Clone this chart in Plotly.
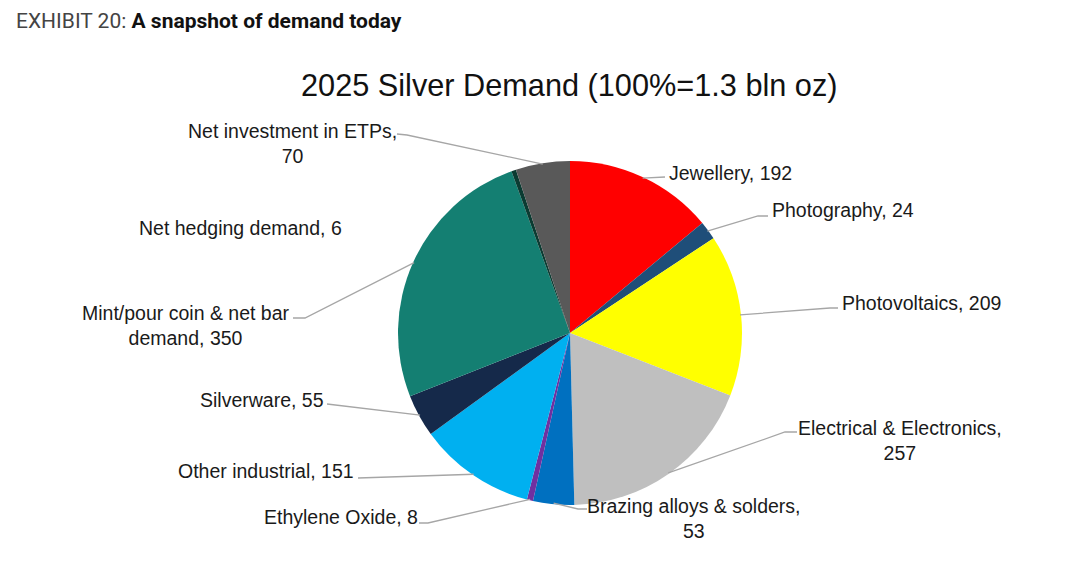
import math
import plotly.graph_objects as go

W, H = 1080, 580

# ---- data ----
names = ["Jewellery", "Photography", "Photovoltaics", "Electrical & Electronics",
         "Brazing alloys & solders", "Ethylene Oxide", "Other industrial",
         "Silverware", "Mint/pour coin & net bar<br>demand", "Net hedging demand",
         "Net investment in ETPs"]
values = [192, 24, 209, 257, 53, 8, 151, 55, 350, 6, 70]
seps = [", ", ", ", ", ", ",<br>", ",<br>", ", ", ", ", ", ", ", ", ", ", ",<br>"]
colors = ["#FF0000", "#1F4E79", "#FFFF00", "#BFBFBF", "#0070C0", "#7030A0",
          "#00B0F0", "#15294A", "#147F72", "#0B3B32", "#595959"]

# ---- layout positions (pixels) ----
pie_left, pie_right, pie_top, pie_bottom = 398, 742, 161, 505
label_pos = [(730, 173), (843, 210), (921, 303), (900, 440), (694, 518),
             (341, 517), (266, 471), (262, 400), (186, 325), (240, 228), (292, 143)]
leader_pts = [
    [(665, 177)],
    [(758, 216), (768, 216)],
    [(830, 308), (838, 308)],
    [(785, 432), (797, 432)],
    [(578, 509), (587, 509)],
    [(428, 523), (419, 523)],
    [(358, 478)],
    [(327, 404)],
    [(305, 318), (293, 318)],
    None,
    [(407, 135), (397, 134)],
]

def px(x):
    return x / W

def py(y):
    return 1 - y / H

fig = go.Figure(go.Pie(
    labels=[n.replace("<br>", " ") for n in names],
    values=values,
    sort=False,
    direction="clockwise",
    rotation=0,
    textinfo="none",
    marker=dict(colors=colors, line=dict(width=0)),
    domain=dict(x=[px(pie_left), px(pie_right)], y=[py(pie_bottom), py(pie_top)]),
    showlegend=False,
))

cx = (pie_left + pie_right) / 2
cy = (pie_top + pie_bottom) / 2
r = (pie_right - pie_left) / 2 - 1
total = sum(values)

shapes = []
annotations = []
cum = 0
for i, v in enumerate(values):
    theta = 2 * math.pi * (cum + v / 2) / total
    cum += v
    ax = cx + r * math.sin(theta)
    ay = cy - r * math.cos(theta)
    pts = leader_pts[i]
    if pts:
        path = f"M {px(ax)},{py(ay)}"
        for (x, y) in pts:
            path += f" L {px(x)},{py(y)}"
        shapes.append(dict(type="path", xref="paper", yref="paper", path=path,
                           line=dict(color="#A6A6A6", width=1.3)))
    lx, ly = label_pos[i]
    annotations.append(dict(
        x=px(lx), y=py(ly), xref="paper", yref="paper",
        text=f"{names[i]}{seps[i]}{values[i]}", showarrow=False,
        xanchor="center", yanchor="middle", align="center",
        font=dict(family="Liberation Sans, Arial, sans-serif", size=19.5, color="#1a1a1a"),
    ))

annotations.append(dict(
    x=px(569), y=py(85), xref="paper", yref="paper",
    text="2025 Silver Demand (100%=1.3 bln oz)", showarrow=False,
    xanchor="center", yanchor="middle",
    font=dict(family="Liberation Sans, Arial, sans-serif", size=30.7, color="#111111"),
))
annotations.append(dict(
    x=px(14), y=py(21), xref="paper", yref="paper",
    text="<span style='color:#444444'>EXHIBIT 20: </span><b>A snapshot of demand today</b>",
    showarrow=False, xanchor="left", yanchor="middle",
    font=dict(family="Roboto, sans-serif", size=21, color="#111111"),
))

fig.update_layout(
    width=W, height=H,
    margin=dict(l=0, r=0, t=0, b=0),
    paper_bgcolor="white", plot_bgcolor="white",
    shapes=shapes, annotations=annotations,
)

fig.write_html("out.html",
               config={"displayModeBar": False},
               post_script="document.body.style.margin='0';document.body.style.padding='0';")
